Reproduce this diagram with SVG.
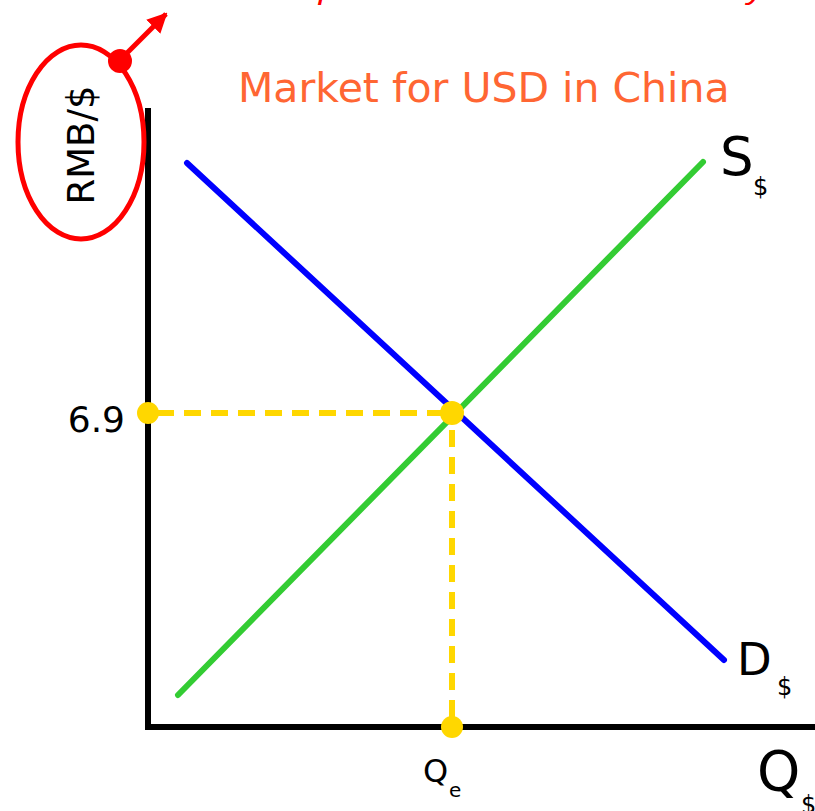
<svg xmlns="http://www.w3.org/2000/svg" width="815" height="811" viewBox="0 0 815 811">
<defs>
<style>
.lbl{font-family:"DejaVu Sans","Liberation Sans",sans-serif;fill:#000}
.axis{stroke:#000;stroke-width:6;fill:none}
.curve{stroke-width:6;stroke-linecap:round;fill:none}
.guide{stroke:#FFD700;stroke-width:6;stroke-dasharray:17 10;fill:none}
.dot{fill:#FFD700}
.red{stroke:#FF0000;fill:none;stroke-width:5}
</style>
<marker id="ah" viewBox="0 0 10 10" refX="9" refY="5" markerWidth="4" markerHeight="4" orient="auto" markerUnits="strokeWidth">
<path d="M0,0 L10,5 L0,10 z" fill="#FF0000"/>
</marker>
</defs>
<rect width="815" height="811" fill="#fff"/>
<text x="158" y="-1" font-family="Liberation Sans, sans-serif" font-style="italic" font-size="30" fill="#FF0000" textLength="607" lengthAdjust="spacingAndGlyphs">Domestic price of one unit of currency</text>
<text id="title" class="lbl" x="238" y="102" font-size="41" style="fill:#FF6633">Market for USD in China</text>
<g id="axes">
<line class="axis" x1="148" y1="108" x2="148" y2="730"/>
<line class="axis" x1="145" y1="727" x2="815" y2="727"/>
</g>
<g id="connectors">
<line class="guide" x1="157" y1="413" x2="452" y2="413"/>
<line class="guide" x1="452" y1="430" x2="452" y2="727"/>
<line class="red" x1="120" y1="60" x2="166" y2="14" marker-end="url(#ah)"/>
</g>
<g id="demand">
<line class="curve" stroke="#0000FF" x1="187" y1="163" x2="724" y2="660"/>
<text class="lbl" x="737" y="675" font-size="45">D</text>
<text class="lbl" x="777" y="695" font-size="24">$</text>
</g>
<g id="supply">
<line class="curve" stroke="#33CC33" x1="178" y1="695" x2="703" y2="162"/>
<text class="lbl" x="720" y="175" font-size="53">S</text>
<text class="lbl" x="753" y="195" font-size="24">$</text>
</g>
<g id="equilibrium">
<circle class="dot" cx="148" cy="413" r="11"/>
<circle class="dot" cx="452" cy="413" r="12"/>
<circle class="dot" cx="452" cy="727" r="11"/>
<text class="lbl" x="125" y="432" font-size="36" text-anchor="end">6.9</text>
<text class="lbl" x="423" y="782" font-size="32">Q</text>
<text class="lbl" x="449" y="797" font-size="20">e</text>
</g>
<g id="yaxis-label">
<ellipse class="red" cx="81" cy="142" rx="63" ry="97"/>
<circle cx="120" cy="61" r="12" fill="#FF0000"/>
<text class="lbl" transform="translate(94,145) rotate(-90)" font-size="37" text-anchor="middle">RMB/$</text>
</g>
<g id="xaxis-label">
<text class="lbl" x="757" y="790" font-size="55">Q</text>
<text class="lbl" x="801" y="813" font-size="24">$</text>
</g>
</svg>
